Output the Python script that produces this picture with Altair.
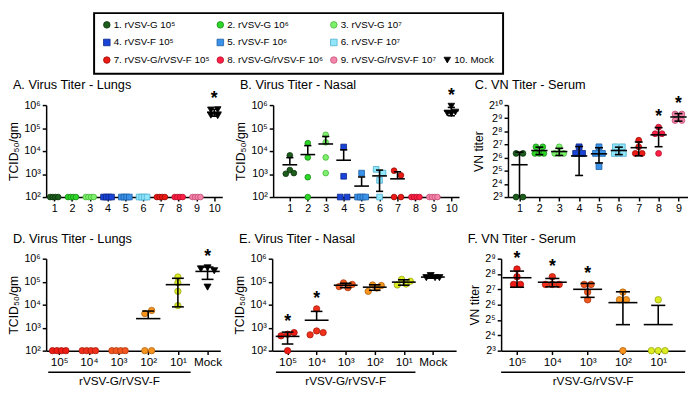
import math
import json
import altair as alt
import pandas as pd

FONT = "Liberation Sans, Arial, sans-serif"

# ---------------- legend ----------------
legend_labels = ["1. rVSV-G 10⁵", "2. rVSV-G 10⁶", "3. rVSV-G 10⁷",
                 "4. rVSV-F 10⁵", "5. rVSV-F 10⁶", "6. rVSV-F 10⁷",
                 "7. rVSV-G/rVSV-F 10⁵", "8. rVSV-G/rVSV-F 10⁶", "9. rVSV-G/rVSV-F 10⁷",
                 "10. Mock"]

# ---------------- top row (groups 1..10) ----------------
top_labels = ["1", "2", "3", "4", "5", "6", "7", "8", "9", "10"]
top_fill = ["#1d5c1d", "#2fd62a", "#7df06c", "#1a44d8", "#3a92e8", "#92e6fb",
            "#ec1a14", "#ff1f45", "#f585aa", "#000000"]
top_stroke = ["#0c360c", "#168a14", "#47b53a", "#0c2688", "#1d5fa8", "#4aaed0",
              "#9a0c08", "#b0102c", "#c24d75", "#000000"]
top_shape = ["circle", "circle", "circle", "square", "square", "square",
             "circle", "circle", "circle", "triangle-down"]

A_lungs = [[100, 100, 100, 100], [100, 100, 100, 100], [100, 100, 100, 100],
           [100, 100, 100, 100], [100, 100, 100, 100], [100, 100, 100, 100],
           [100, 100, 100, 100], [100, 100, 100, 100], [100, 100, 100, 100],
           [6.2e5, 6.4e5, 3.6e5, 3.4e5]]
B_nasal = [[6.5e3, 1.03e3, 1.5e3, 1.1e3],
           [2.2e4, 5.3e3, 7.3e2, 100],
           [5.1e4, 2.4e4, 5.3e3, 1.1e3],
           [1.5e4, 8.0e2, 100, 100],
           [1.1e3, 100, 100, 100, 100],
           [1.6e3, 1.1e3, 5.3e2, 100],
           [1.4e3, 8.8e2, 100, 100],
           [100, 100, 100, 100],
           [100, 100, 100, 100],
           [9.0e5, 4.5e5, 4.2e5, 5.0e5]]
C_serum = [[80, 80, 8, 8],
           [113, 113, 80, 80, 80],
           [113, 80, 80, 80],
           [113, 80, 80],
           [113, 80, 80, 40],
           [113, 113, 80, 80, 80],
           [160, 113, 80, 80],
           [320, 226, 226, 80],
           [640, 640, 453, 453]]
C_summary_override = {4: (70, 45)}  # mean, SD

# ---------------- bottom row (doses) ----------------
dose_labels = ["10⁵", "10⁴", "10³", "10²", "10¹", "Mock"]
dose_fill = ["#ee1c14", "#f0301a", "#f2561e", "#f7941e", "#dcec22", "#000000"]
dose_stroke = ["#a0100a", "#a81e0c", "#b03a10", "#b0620e", "#98a612", "#000000"]
dose_shape = ["circle", "circle", "circle", "circle", "circle", "triangle-down"]

D_lungs = [[100, 100, 100, 100], [100, 100, 100, 100], [100, 100, 100, 100],
           [4.1e3, 5.6e3, 100, 100],
           [1.6e5, 9.0e4, 3.8e4, 9.1e3],
           [3.6e5, 4.0e5, 3.0e5, 5.8e4]]
E_nasal = [[4.4e2, 5.2e2, 6.1e2, 100],
           [4.9e2, 6.6e3, 7.2e2, 6.1e2],
           [6.1e4, 8.9e4, 5.5e4, 7.6e4],
           [3.8e4, 7.2e4, 5.3e4, 6.8e4],
           [7.2e4, 1.27e5, 7.9e4, 1.05e5],
           [1.5e5, 1.85e5, 1.5e5, 1.5e5]]
F_serum = [[320, 226, 160, 160],
           [226, 160, 160, 160],
           [160, 160, 113, 80],
           [113, 80, 80, 8],
           [80, 8, 8, 8]]

SUP = ['⁰', '¹', '²', '³', '⁴', '⁵', '⁶', '⁷', '⁸', '⁹', '¹⁰']


def jitter(vals, catw, ppu, base, thr=5.0):
    ys = [math.log(v, base) * ppu for v in vals]
    order = sorted(range(len(vals)), key=lambda i: ys[i])
    clusters, cur = [], [order[0]]
    for a, b in zip(order, order[1:]):
        if ys[b] - ys[a] < thr:
            cur.append(b)
        else:
            clusters.append(cur)
            cur = [b]
    clusters.append(cur)
    off = [0.0] * len(vals)
    for cl in clusters:
        cl = sorted(cl)
        k = len(cl)
        if k > 1:
            s = min(7.0, 0.45 * catw / (k - 1))
            for j, i in enumerate(cl):
                off[i] = (j - (k - 1) / 2) * s / catw
    return off


def panel(vals, fills, strokes, shapes, size, tri_size, xlabels, xdomain, width, height,
          ydomain, ybase, ytitle, title, sig, override=None, group_span=None):
    catw = width / (xdomain[1] - xdomain[0])
    ppu = height / (math.log(ydomain[1], ybase) - math.log(ydomain[0], ybase))
    pts, hseg, vseg, stars = [], [], [], []
    for gi, v in enumerate(vals):
        g = gi + 1
        offs = jitter(v, catw, ppu, ybase)
        for val, o in zip(v, offs):
            pts.append(dict(x=g + o, y=val, fill=fills[gi], stroke=strokes[gi],
                            shape=shapes[gi],
                            size=tri_size if shapes[gi] == "triangle-down" else size))
        n = len(v)
        m = sum(v) / n
        sd = math.sqrt(sum((a - m) ** 2 for a in v) / (n - 1))
        if override and g in override:
            m, sd = override[g]
        top = max(v)
        if sd > 0:
            hseg.append(dict(x=g - 0.41, x2=g + 0.41, y=m))
            hi, lo = m + sd, m - sd
            hseg.append(dict(x=g - 0.2, x2=g + 0.2, y=hi))
            if lo <= 0:
                lo_draw = m
            elif lo < ydomain[0]:
                lo_draw = ydomain[0]
            else:
                lo_draw = lo
                hseg.append(dict(x=g - 0.2, x2=g + 0.2, y=lo))
            vseg.append(dict(x=g, y=lo_draw, y2=hi))
            top = max(top, hi)
        if g in sig:
            stars.append(dict(x=g, y=top))

    ng = len(vals)
    xs = alt.Scale(domain=list(xdomain), nice=False, zero=False)
    big = len(xlabels) <= 6
    xax = alt.Axis(values=list(range(1, ng + 1)),
                   labelExpr=json.dumps(xlabels) + "[round(datum.value) - 1]",
                   title=None, tickSize=4, labelFontSize=12 if big else 11,
                   labelPadding=2, labelOverlap=False, labelFlush=False)
    nmax = round(math.log(ydomain[1], ybase))
    nmin = round(math.log(ydomain[0], ybase))
    yticks = [ybase ** k for k in range(nmin, nmax + 1)]
    ln = "LN10" if ybase == 10 else "LN2"
    yax = alt.Axis(values=yticks,
                   labelExpr="'" + str(ybase) + "' + " + json.dumps(SUP) +
                   "[round(log(datum.value) / " + ln + ")]",
                   title=ytitle, tickSize=4, labelFontSize=11, titleFontSize=12.5,
                   titlePadding=3, labelPadding=2, labelOverlap=False, labelFlush=False)
    ys = alt.Scale(type="log", base=ybase, domain=list(ydomain), nice=False)
    X = alt.X("x:Q", scale=xs, axis=xax)
    Y = alt.Y("y:Q", scale=ys, axis=yax)

    p = alt.Chart(pd.DataFrame(pts)).mark_point(filled=True, opacity=1, strokeWidth=0.8).encode(
        x=X, y=Y,
        fill=alt.Fill("fill:N", scale=None),
        stroke=alt.Stroke("stroke:N", scale=None),
        shape=alt.Shape("shape:N", scale=None),
        size=alt.Size("size:Q", scale=None))
    layers = [p]
    if hseg:
        layers.append(alt.Chart(pd.DataFrame(hseg)).mark_rule(color="black", strokeWidth=1.6).encode(
            x=X, x2="x2:Q", y=Y))
    if vseg:
        layers.append(alt.Chart(pd.DataFrame(vseg)).mark_rule(color="black", strokeWidth=1.6).encode(
            x=X, y=Y, y2="y2:Q"))
    if stars:
        layers.append(alt.Chart(pd.DataFrame(stars)).mark_text(
            text="*", fontSize=18, fontWeight="bold", dy=-10, baseline="middle",
            font=FONT, color="black").encode(x=X, y=Y))
    layers.append(alt.Chart(alt.Data(values=[{}])).mark_text(
        align="left", baseline="middle", fontSize=13, font=FONT, color="black").encode(
        x=alt.value(-34), y=alt.value(-20), text=alt.value(title)))
    if group_span:
        span = pd.DataFrame([dict(x=group_span[0], x2=group_span[1],
                                  xc=(group_span[0] + group_span[1]) / 2,
                                  label="rVSV-G/rVSV-F")])
        layers.append(alt.Chart(span).mark_rule(color="black", strokeWidth=1.4).encode(
            x=X, x2="x2:Q", y=alt.value(height + 22)))
        layers.append(alt.Chart(span).mark_text(
            baseline="middle", fontSize=12, font=FONT, color="black").encode(
            x=alt.X("xc:Q", scale=xs, axis=xax), y=alt.value(height + 31), text="label:N"))
    return alt.layer(*layers).properties(width=width, height=height)


H = 94
TC = "TCID₅₀/gm"
A = panel(A_lungs, top_fill, top_stroke, top_shape, 34, 46, top_labels, (0.55, 10.45), 180, H,
          (100, 1e6), 10, TC, "A. Virus Titer - Lungs", [10])
B = panel(B_nasal, top_fill, top_stroke, top_shape, 34, 46, top_labels, (0.07, 10.43), 190, H,
          (100, 1e6), 10, TC, "B. Virus Titer - Nasal", [10])
C = panel(C_serum, top_fill, top_stroke, top_shape, 36, 46, top_labels[:9], (0.42, 9.48), 184, H,
          (8, 1024), 2, "VN titer", "C. VN Titer - Serum", [8, 9], override=C_summary_override)
D = panel(D_lungs, dose_fill, dose_stroke, dose_shape, 42, 52, dose_labels, (0.56, 6.43), 178, H,
          (100, 1e6), 10, TC, "D. Virus Titer - Lungs", [6], group_span=(1 - 0.37, 5 + 0.43))
E = panel(E_nasal, dose_fill, dose_stroke, dose_shape, 42, 52, dose_labels, (0.47, 6.8), 188, H,
          (100, 1e6), 10, TC, "E. Virus Titer - Nasal", [1, 2], group_span=(1 - 0.4, 5 + 0.4))
F = panel(F_serum, dose_fill, dose_stroke, dose_shape, 44, 52, dose_labels[:5], (0.55, 5.76), 188, H,
          (8, 512), 2, "VN titer", "F. VN Titer - Serum", [1, 2, 3], group_span=(1 - 0.45, 5.76))

# ---------------- legend chart ----------------
LW, LH = 468, 64
COLW = 116
leg_rows = []
leg_shape = ["circle"] * 3 + ["square"] * 3 + ["circle"] * 3 + ["triangle-down"]
for i, lab in enumerate(legend_labels):
    col, row = (i % 3, i // 3) if i < 9 else (3, 2)
    leg_rows.append(dict(col=col, row=row, label=lab, fill=top_fill[i],
                         stroke=top_stroke[i], shape=leg_shape[i]))
leg_df = pd.DataFrame(leg_rows)
cx0 = -62 / COLW
lx = alt.Scale(domain=[cx0, cx0 + LW / COLW], nice=False, zero=False)
ry0 = -13 / 18
ly = alt.Scale(domain=[ry0, ry0 + LH / 18], nice=False, zero=False, reverse=True)
box = alt.Chart(alt.Data(values=[{}])).mark_rect(fillOpacity=0, stroke="black", strokeWidth=2).encode(
    x=alt.value(49), x2=alt.value(LW - 1), y=alt.value(1), y2=alt.value(LH - 1))
sym = alt.Chart(leg_df).mark_point(filled=True, opacity=1, strokeWidth=0.8, size=45).encode(
    x=alt.X("col:Q", scale=lx, axis=None), y=alt.Y("row:Q", scale=ly, axis=None),
    fill=alt.Fill("fill:N", scale=None), stroke=alt.Stroke("stroke:N", scale=None),
    shape=alt.Shape("shape:N", scale=None))
txt = alt.Chart(leg_df).mark_text(align="left", baseline="middle", dx=7, fontSize=10,
                                  font=FONT, color="black").encode(
    x=alt.X("col:Q", scale=lx, axis=None), y=alt.Y("row:Q", scale=ly, axis=None), text="label:N")
legend = alt.layer(box, sym, txt).properties(width=LW, height=LH)

row1 = alt.hconcat(A, B, C, spacing=12)
row2 = alt.hconcat(D, E, F, spacing=12)
chart = alt.vconcat(legend, alt.vconcat(row1, row2, spacing=20), spacing=5).properties(
    padding=0
).configure_view(strokeWidth=0).configure_axis(
    domainColor="black", domainWidth=1.5, tickColor="black", tickWidth=1.5,
    labelColor="black", titleColor="black", labelFont=FONT, titleFont=FONT,
    titleFontWeight="normal", grid=False
)

chart.save("out.html", embed_options={"renderer": "svg", "actions": False})
